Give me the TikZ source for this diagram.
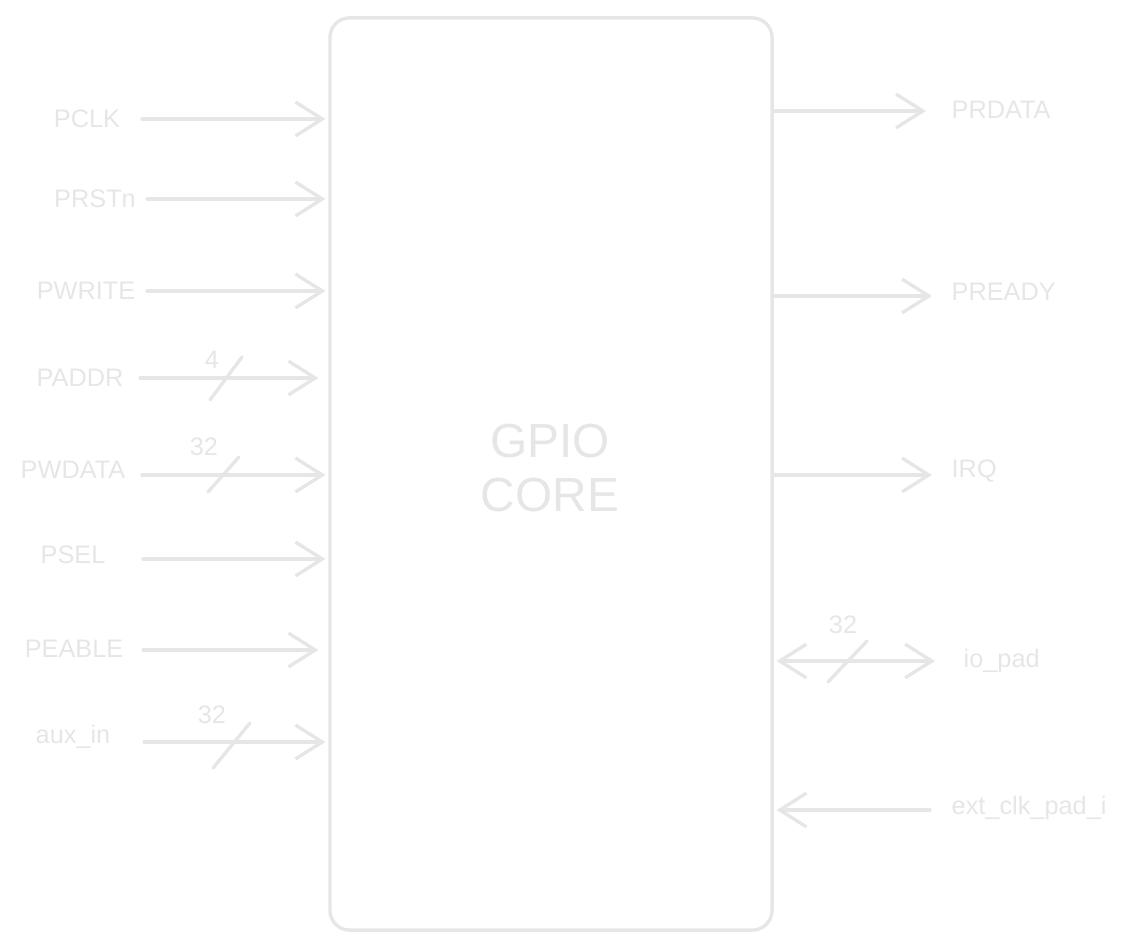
\documentclass[tikz,border=0pt]{standalone}
\usepackage{fontspec}
\setmainfont{Liberation Sans}
\usetikzlibrary{arrows.meta}
\definecolor{pale}{RGB}{230,230,230}

\begin{document}
\begin{tikzpicture}[x=0.025cm, y=-0.025cm, color=pale, line width=2.4pt,
	sig/.style={-{Straight Barb[length=19pt,width=24pt]}, line cap=round},
	sigboth/.style={{Straight Barb[length=19pt,width=24pt]}-{Straight Barb[length=19pt,width=24pt]}, line cap=round},
	slash/.style={line cap=round},
	lbl/.style={font=\fontsize{18}{20}\selectfont, inner sep=0pt},
	wid/.style={font=\fontsize{18}{20}\selectfont, inner sep=0pt}]
	\useasboundingbox (0,0) rectangle (1136,952);

	\node[draw, rounded corners=14pt, minimum width=11.05cm, minimum height=22.8cm] (core) at (551,474) {};
	\node[font=\fontsize{34}{39}\selectfont, align=center, inner sep=0pt] (title) at (550,468) {GPIO\\CORE};

	% inputs
	\node[lbl] (pclk) at (87,119) {PCLK};
	\node[lbl] (prstn) at (95,199) {PRSTn};
	\node[lbl] (pwrite) at (86,291) {PWRITE};
	\node[lbl] (paddr) at (80,378) {PADDR};
	\node[lbl] (pwdata) at (73,470) {PWDATA};
	\node[lbl] (psel) at (73,555) {PSEL};
	\node[lbl] (peable) at (74,649) {PEABLE};
	\node[lbl] (auxin) at (73,737) {aux\_in};

	\coordinate (pclk-s) at (142,119);
	\coordinate (prstn-s) at (147,199);
	\coordinate (pwrite-s) at (147,291);
	\coordinate (paddr-s) at (140,378);
	\coordinate (pwdata-s) at (142,475);
	\coordinate (psel-s) at (143,559);
	\coordinate (peable-s) at (143,650);
	\coordinate (auxin-s) at (144,742);

	\draw[sig, shorten >=2pt] (pclk-s) -- (pclk-s -| core.west);
	\draw[sig, shorten >=2pt] (prstn-s) -- (prstn-s -| core.west);
	\draw[sig, shorten >=2pt] (pwrite-s) -- (pwrite-s -| core.west);
	\draw[sig, shorten >=7pt] (paddr-s) -- (paddr-s -| core.west);
	\draw[sig, shorten >=2pt] (pwdata-s) -- (pwdata-s -| core.west);
	\draw[sig, shorten >=2pt] (psel-s) -- (psel-s -| core.west);
	\draw[sig, shorten >=7pt] (peable-s) -- (peable-s -| core.west);
	\draw[sig, shorten >=2pt] (auxin-s) -- (auxin-s -| core.west);

	% bus widths
	\draw[slash] (226,378) ++(-16,22) -- ++(32,-43);
	\node[wid] (paddr-w) at (212,360) {4};
	\draw[slash] (223,475) ++(-15,17) -- ++(31,-35);
	\node[wid] (pwdata-w) at (204,447) {32};
	\draw[slash] (231,745) ++(-18,23) -- ++(37,-45);
	\node[wid] (auxin-w) at (212,715) {32};

	% outputs
	\node[lbl, anchor=west] (prdata) at (950,110) {PRDATA};
	\node[lbl, anchor=west] (pready) at (950,292) {PREADY};
	\node[lbl, anchor=west] (irq) at (950,471) {IRQ};
	\node[lbl, anchor=west] (iopad) at (962,661) {io\_pad};
	\node[lbl, anchor=west] (extclk) at (950,808) {ext\_clk\_pad\_i};

	\coordinate (prdata-e) at (926,111);
	\coordinate (pready-e) at (932,296);
	\coordinate (irq-e) at (932,475);
	\coordinate (iopad-e) at (935,661);
	\coordinate (extclk-s) at (930,810);

	\draw[sig] (prdata-e -| core.east) -- (prdata-e);
	\draw[sig] (pready-e -| core.east) -- (pready-e);
	\draw[sig] (irq-e -| core.east) -- (irq-e);
	\draw[sigboth, shorten <=2pt] (iopad-e -| core.east) -- (iopad-e);
	\draw[sig, shorten >=2pt] (extclk-s) -- (extclk-s -| core.east);

	\draw[slash] (847,661) ++(-19,21) -- ++(39,-41);
	\node[wid] (iopad-w) at (843,625) {32};
\end{tikzpicture}
\end{document}
